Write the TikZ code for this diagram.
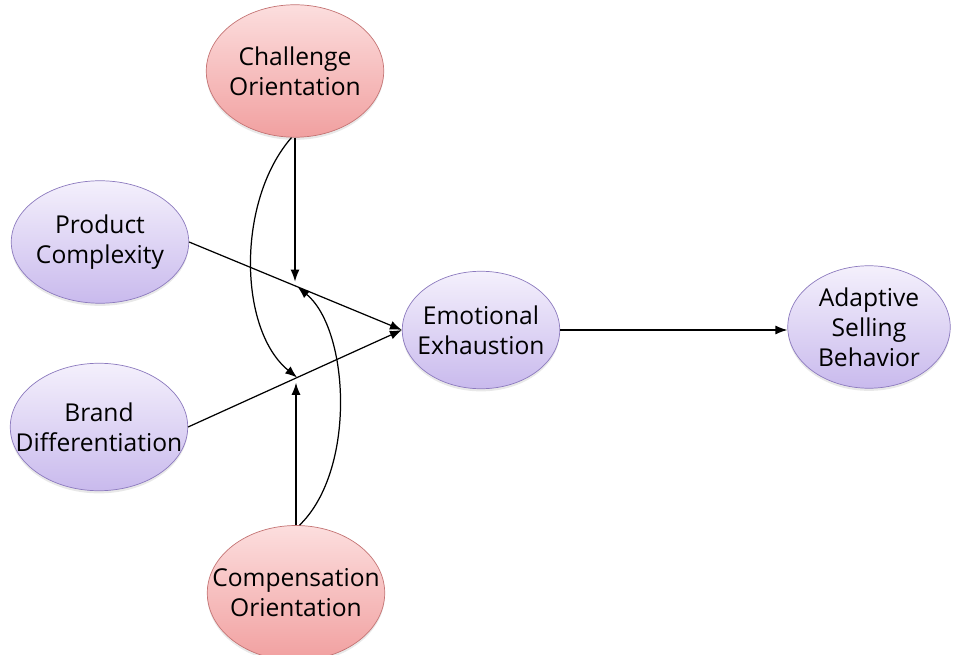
\documentclass[tikz,border=0pt]{standalone}
\usepackage{fontspec}
\setmainfont{Open Sans}
\usetikzlibrary{shapes.geometric,arrows.meta,shadows}
\definecolor{cus-lav1}{RGB}{244, 240, 252}
\definecolor{cus-lav2}{RGB}{201, 186, 237}
\definecolor{cus-lav3}{RGB}{140, 122, 190}
\definecolor{cus-pink1}{RGB}{252, 222, 222}
\definecolor{cus-pink2}{RGB}{241, 160, 160}
\definecolor{cus-pink3}{RGB}{196, 116, 116}
\tikzset{
	var/.style={ellipse, draw=cus-lav3, top color=cus-lav1, bottom color=cus-lav2, inner xsep=-0.45cm, inner ysep=-0.25cm,
		align=center, minimum width=3.55cm, minimum height=2.45cm, font=\fontsize{14}{17}\selectfont,
		drop shadow={opacity=.18, shadow xshift=0pt, shadow yshift=-1.5pt}},
	moder/.style={var, draw=cus-pink3, top color=cus-pink1, bottom color=cus-pink2, minimum height=2.65cm},
	arr/.style={-{Latex[length=2.4mm,width=1.8mm]}, line width=.7pt}
}
\begin{document}
\begin{tikzpicture}[x=0.02cm, y=-0.02cm]
	\useasboundingbox (0,0) rectangle (957,655);
	
	\node [moder] (co) at (295,71) {Challenge\\Orientation};
	\node [var] (pc) at (100,242) {Product\\Complexity};
	\node [var, minimum height=2.55cm] (bd) at (99,427) {Brand\\Differentiation};
	\node [var, minimum width=3.15cm, minimum height=2.35cm] (ee) at (481,330) {Emotional\\Exhaustion};
	\node [var, minimum width=3.25cm, minimum height=2.45cm] (asb) at (869,327) {Adaptive\\Selling\\Behavior};
	\node [moder, minimum height=2.7cm] (cmp) at (296,593) {Compensation\\Orientation};
	
	\path (pc.east) -- coordinate[pos=.51] (m1) (ee.west);
	\path (bd.east) -- coordinate[pos=.51] (m2) (ee.west);
	
	\draw [arr] (pc.east) -- (ee.west);
	\draw [arr] (bd.east) -- (ee.west);
	\draw [arr] (ee.east) -- (ee.east -| asb.west);
	
	\draw [arr, shorten >=3pt] (co.south) -- (co.south |- m1);
	\draw [arr, shorten >=3pt] (cmp.north) -- (cmp.north |- m2);
	\draw [arr] ([xshift=-2pt]co.south) .. controls +(-55,63) and +(-59,-48) .. (m2);
	\draw [arr] ([xshift=2pt]cmp.north) .. controls +(57,-55) and +(52,43) .. (m1);
\end{tikzpicture}
\end{document}
